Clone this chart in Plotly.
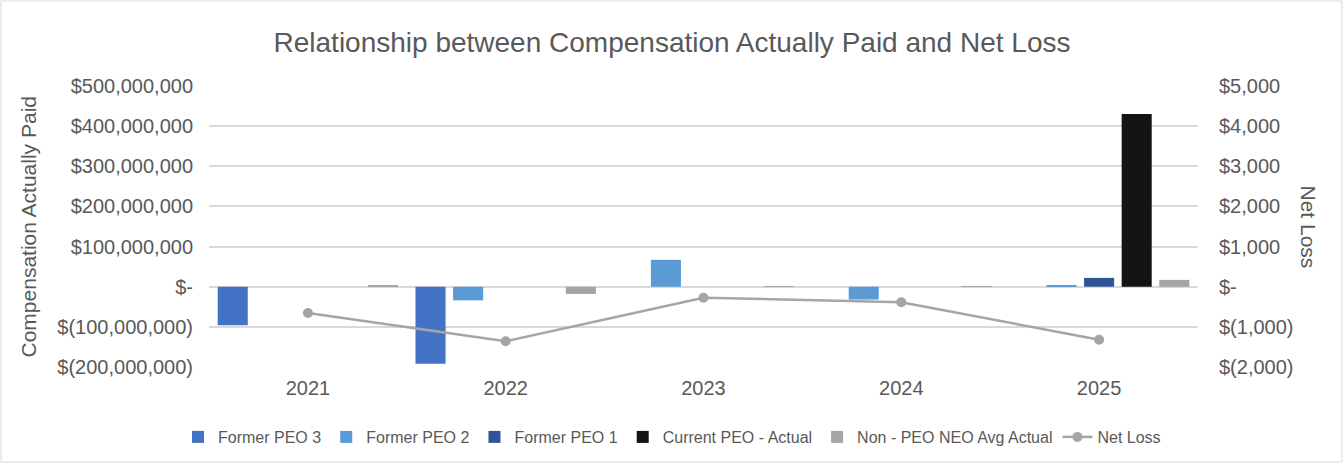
import plotly.graph_objects as go

years = ["2021", "2022", "2023", "2024", "2025"]
former_peo3 = [-96e6, -192e6, 0, 0, 0]
former_peo2 = [0, -34e6, 67e6, -32e6, 3e6]
former_peo1 = [0, 0, 0, 0, 22e6]
current_peo = [0, 0, 0, 0, 430e6]
non_peo_avg = [3e6, -18e6, 1.5e6, 1.5e6, 17e6]
net_loss = [-655, -1360, -275, -385, -1320]

left_tickvals = [-200e6, -100e6, 0, 100e6, 200e6, 300e6, 400e6, 500e6]
left_ticktext = ["$(200,000,000)", "$(100,000,000)", "$-", "$100,000,000", "$200,000,000",
                 "$300,000,000", "$400,000,000", "$500,000,000"]
right_tickvals = [-2000, -1000, 0, 1000, 2000, 3000, 4000, 5000]
right_ticktext = ["$(2,000)", "$(1,000)", "$-", "$1,000", "$2,000", "$3,000", "$4,000", "$5,000"]

FONT = "Liberation Sans, Arial, sans-serif"
TXT = "#595959"

L, R, T, B = 209, 146, 86, 97
PW = 1344 - L - R
PH = 464 - T - B

fig = go.Figure()
series = [
    ("Former PEO 3", former_peo3, "#4472C4"),
    ("Former PEO 2", former_peo2, "#5B9BD5"),
    ("Former PEO 1", former_peo1, "#2F5597"),
    ("Current PEO - Actual", current_peo, "#121411"),
    ("Non - PEO NEO Avg Actual", non_peo_avg, "#A5A5A5"),
]
for name, vals, col in series:
    fig.add_trace(go.Bar(x=years, y=vals, name=name, marker=dict(color=col, line=dict(width=0))))

fig.add_trace(go.Scatter(x=years, y=net_loss, name="Net Loss", yaxis="y2", mode="lines+markers",
                         line=dict(color="#A5A5A5", width=2.5),
                         marker=dict(color="#A5A5A5", size=10)))

fig.update_layout(
    width=1344, height=464,
    margin=dict(l=L, r=R, t=T, b=B),
    paper_bgcolor="white", plot_bgcolor="white",
    font=dict(family=FONT, color=TXT, size=20),
    barmode="group", bargap=0.05, bargroupgap=0.2,
    title=dict(text="Relationship between Compensation Actually Paid and Net Loss",
               x=0.5, xanchor="center", y=1 - 42 / 464, yanchor="middle",
               font=dict(size=28, color=TXT, family=FONT)),
    xaxis=dict(showgrid=False, showline=False, ticks="", tickfont=dict(size=20, color=TXT),
               ticklabelstandoff=7),
    yaxis=dict(range=[-200e6, 500e6], tickvals=left_tickvals, ticktext=left_ticktext,
               showgrid=True, gridcolor="#D9D9D9", gridwidth=1.5, zeroline=False,
               showline=False, ticks="", tickfont=dict(size=20, color=TXT),
               ticklabelstandoff=15),
    yaxis2=dict(range=[-2000, 5000], tickvals=right_tickvals, ticktext=right_ticktext,
                overlaying="y", side="right", showgrid=False, zeroline=False,
                showline=False, ticks="", tickfont=dict(size=20, color=TXT),
                ticklabelstandoff=20),
    legend=dict(orientation="h", xref="container", x=0.5, xanchor="center",
                yref="container", y=27 / 464, yanchor="middle",
                font=dict(size=16, color=TXT, family=FONT), itemwidth=30,
                traceorder="normal"),
    annotations=[
        dict(text="Compensation Actually Paid", xref="paper", yref="paper",
             x=(28 - L) / PW, y=0.5, textangle=-90, showarrow=False,
             xanchor="center", yanchor="middle", font=dict(size=21, color=TXT)),
        dict(text="Net Loss", xref="paper", yref="paper",
             x=(1308 - L) / PW, y=0.5, textangle=90, showarrow=False,
             xanchor="center", yanchor="middle", font=dict(size=21, color=TXT)),
    ],
    shapes=[dict(type="rect", xref="paper", yref="paper",
                 x0=(1 - L) / PW, x1=(1342 - L) / PW,
                 y0=(464 - B - 462) / PH, y1=(464 - B - 1) / PH,
                 line=dict(color="#D9D9D9", width=1), fillcolor="rgba(0,0,0,0)", layer="below")],
)

fig.write_html("out.html", config={"displayModeBar": False},
               post_script="document.body.style.margin='0px';document.body.style.overflow='hidden';")
